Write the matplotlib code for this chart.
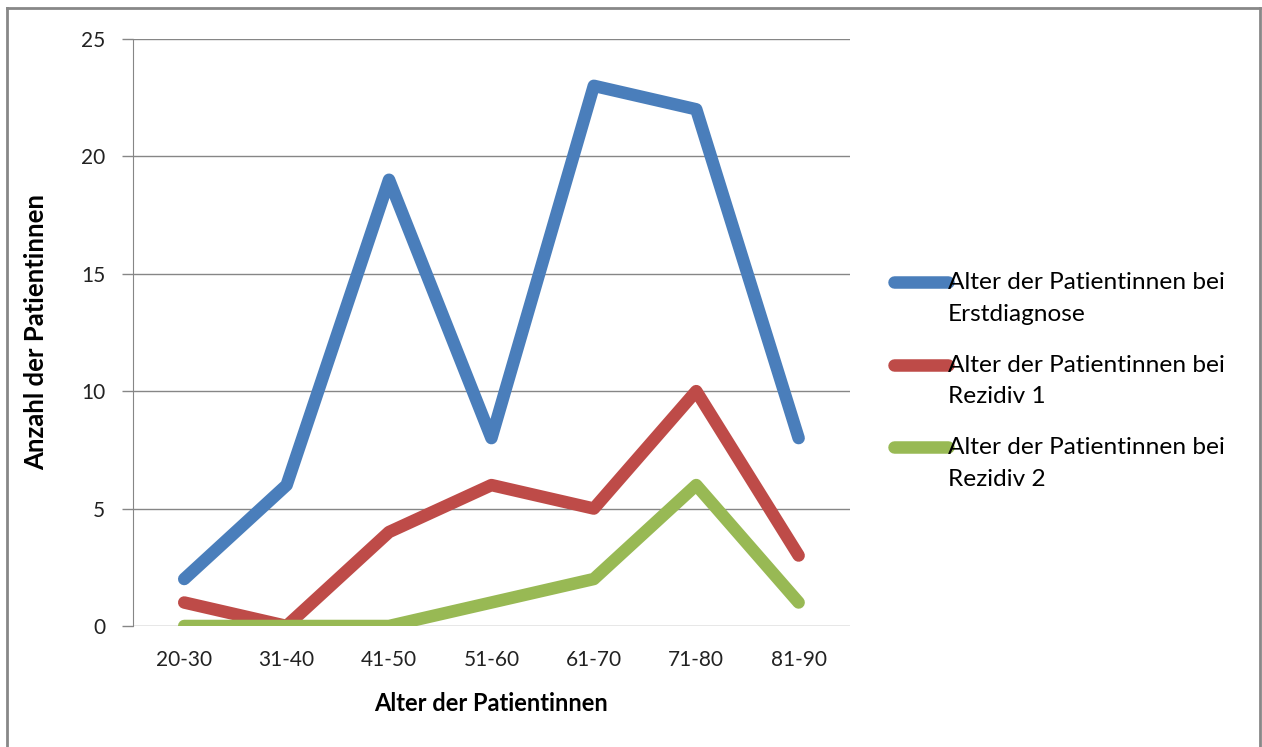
import numpy as np
import matplotlib.pyplot as plt
from matplotlib.lines import Line2D
from matplotlib.legend_handler import HandlerLine2D

# age groups and patient counts per group
altersgruppen = ["20-30", "31-40", "41-50", "51-60", "61-70", "71-80", "81-90"]
erstdiagnose = [2, 6, 19, 8, 23, 22, 8]
rezidiv1 = [1, 0, 4, 6, 5, 10, 3]
rezidiv2 = [0, 0, 0, 1, 2, 6, 1]
y_ticks = [0, 5, 10, 15, 20, 25]

plt.rcParams['font.family'] = ['Lato', 'DejaVu Sans']


class FirstLineHandler(HandlerLine2D):
    # put the legend line next to the first text line, like Excel does
    def create_artists(self, legend, orig_handle, xdescent, ydescent, width, height, fontsize, trans):
        artists = super().create_artists(legend, orig_handle, xdescent, ydescent,
                                         width, height, fontsize, trans)
        for a in artists:
            a.set_ydata(np.asarray(a.get_ydata()) + 0.66 * fontsize)
        return artists


fig = plt.figure(figsize=(12.62, 7.47), dpi=100)
ax = fig.add_axes([0.1054, 0.162, 0.568, 0.786])

x = list(range(len(altersgruppen)))
style = dict(linewidth=9, solid_capstyle='round', solid_joinstyle='round')
ax.plot(x, erstdiagnose, color="#4a7ebb", label="Alter der Patientinnen bei\nErstdiagnose", **style)
ax.plot(x, rezidiv1, color="#be4b48", label="Alter der Patientinnen bei\nRezidiv 1", **style)
ax.plot(x, rezidiv2, color="#98b954", label="Alter der Patientinnen bei\nRezidiv 2", **style)

ax.set_xlim(-0.5, len(altersgruppen) - 0.5)
ax.set_ylim(0, 25)
ax.set_xticks(x)
ax.set_xticklabels(altersgruppen)
ax.set_yticks(y_ticks)
ax.tick_params(axis='x', length=0, pad=17, labelsize=15, colors="#222222")
ax.tick_params(axis='y', length=8, width=1, color="#868686", pad=12, labelsize=15, labelcolor="#222222")
ax.grid(axis='y', color="#868686", linewidth=1)
ax.set_axisbelow(True)
for side in ["top", "right", "bottom"]:
    ax.spines[side].set_visible(False)
ax.spines["left"].set_color("#868686")

ax.set_xlabel("Alter der Patientinnen", fontsize=17, fontweight='bold', labelpad=16)
ax.set_ylabel("Anzahl der Patientinnen", fontsize=18.5, fontweight='bold', labelpad=24)

leg = fig.legend(loc='center left', bbox_to_anchor=(0.691, 0.49), frameon=False,
                 fontsize=17.6, handlelength=2.2, handletextpad=0.0, labelspacing=1.22,
                 handler_map={Line2D: FirstLineHandler()})
for t in leg.get_texts():
    t.set_linespacing(1.62)

# outer chart frame
fig.add_artist(Line2D([0.0055, 0.0055], [0.0, 0.989], color="#888888", linewidth=2))
fig.add_artist(Line2D([0.0055, 0.9985], [0.989, 0.989], color="#888888", linewidth=2))
fig.add_artist(Line2D([0.9985, 0.9985], [0.0, 0.989], color="#888888", linewidth=2))

fig.savefig("out.png", dpi=100)
